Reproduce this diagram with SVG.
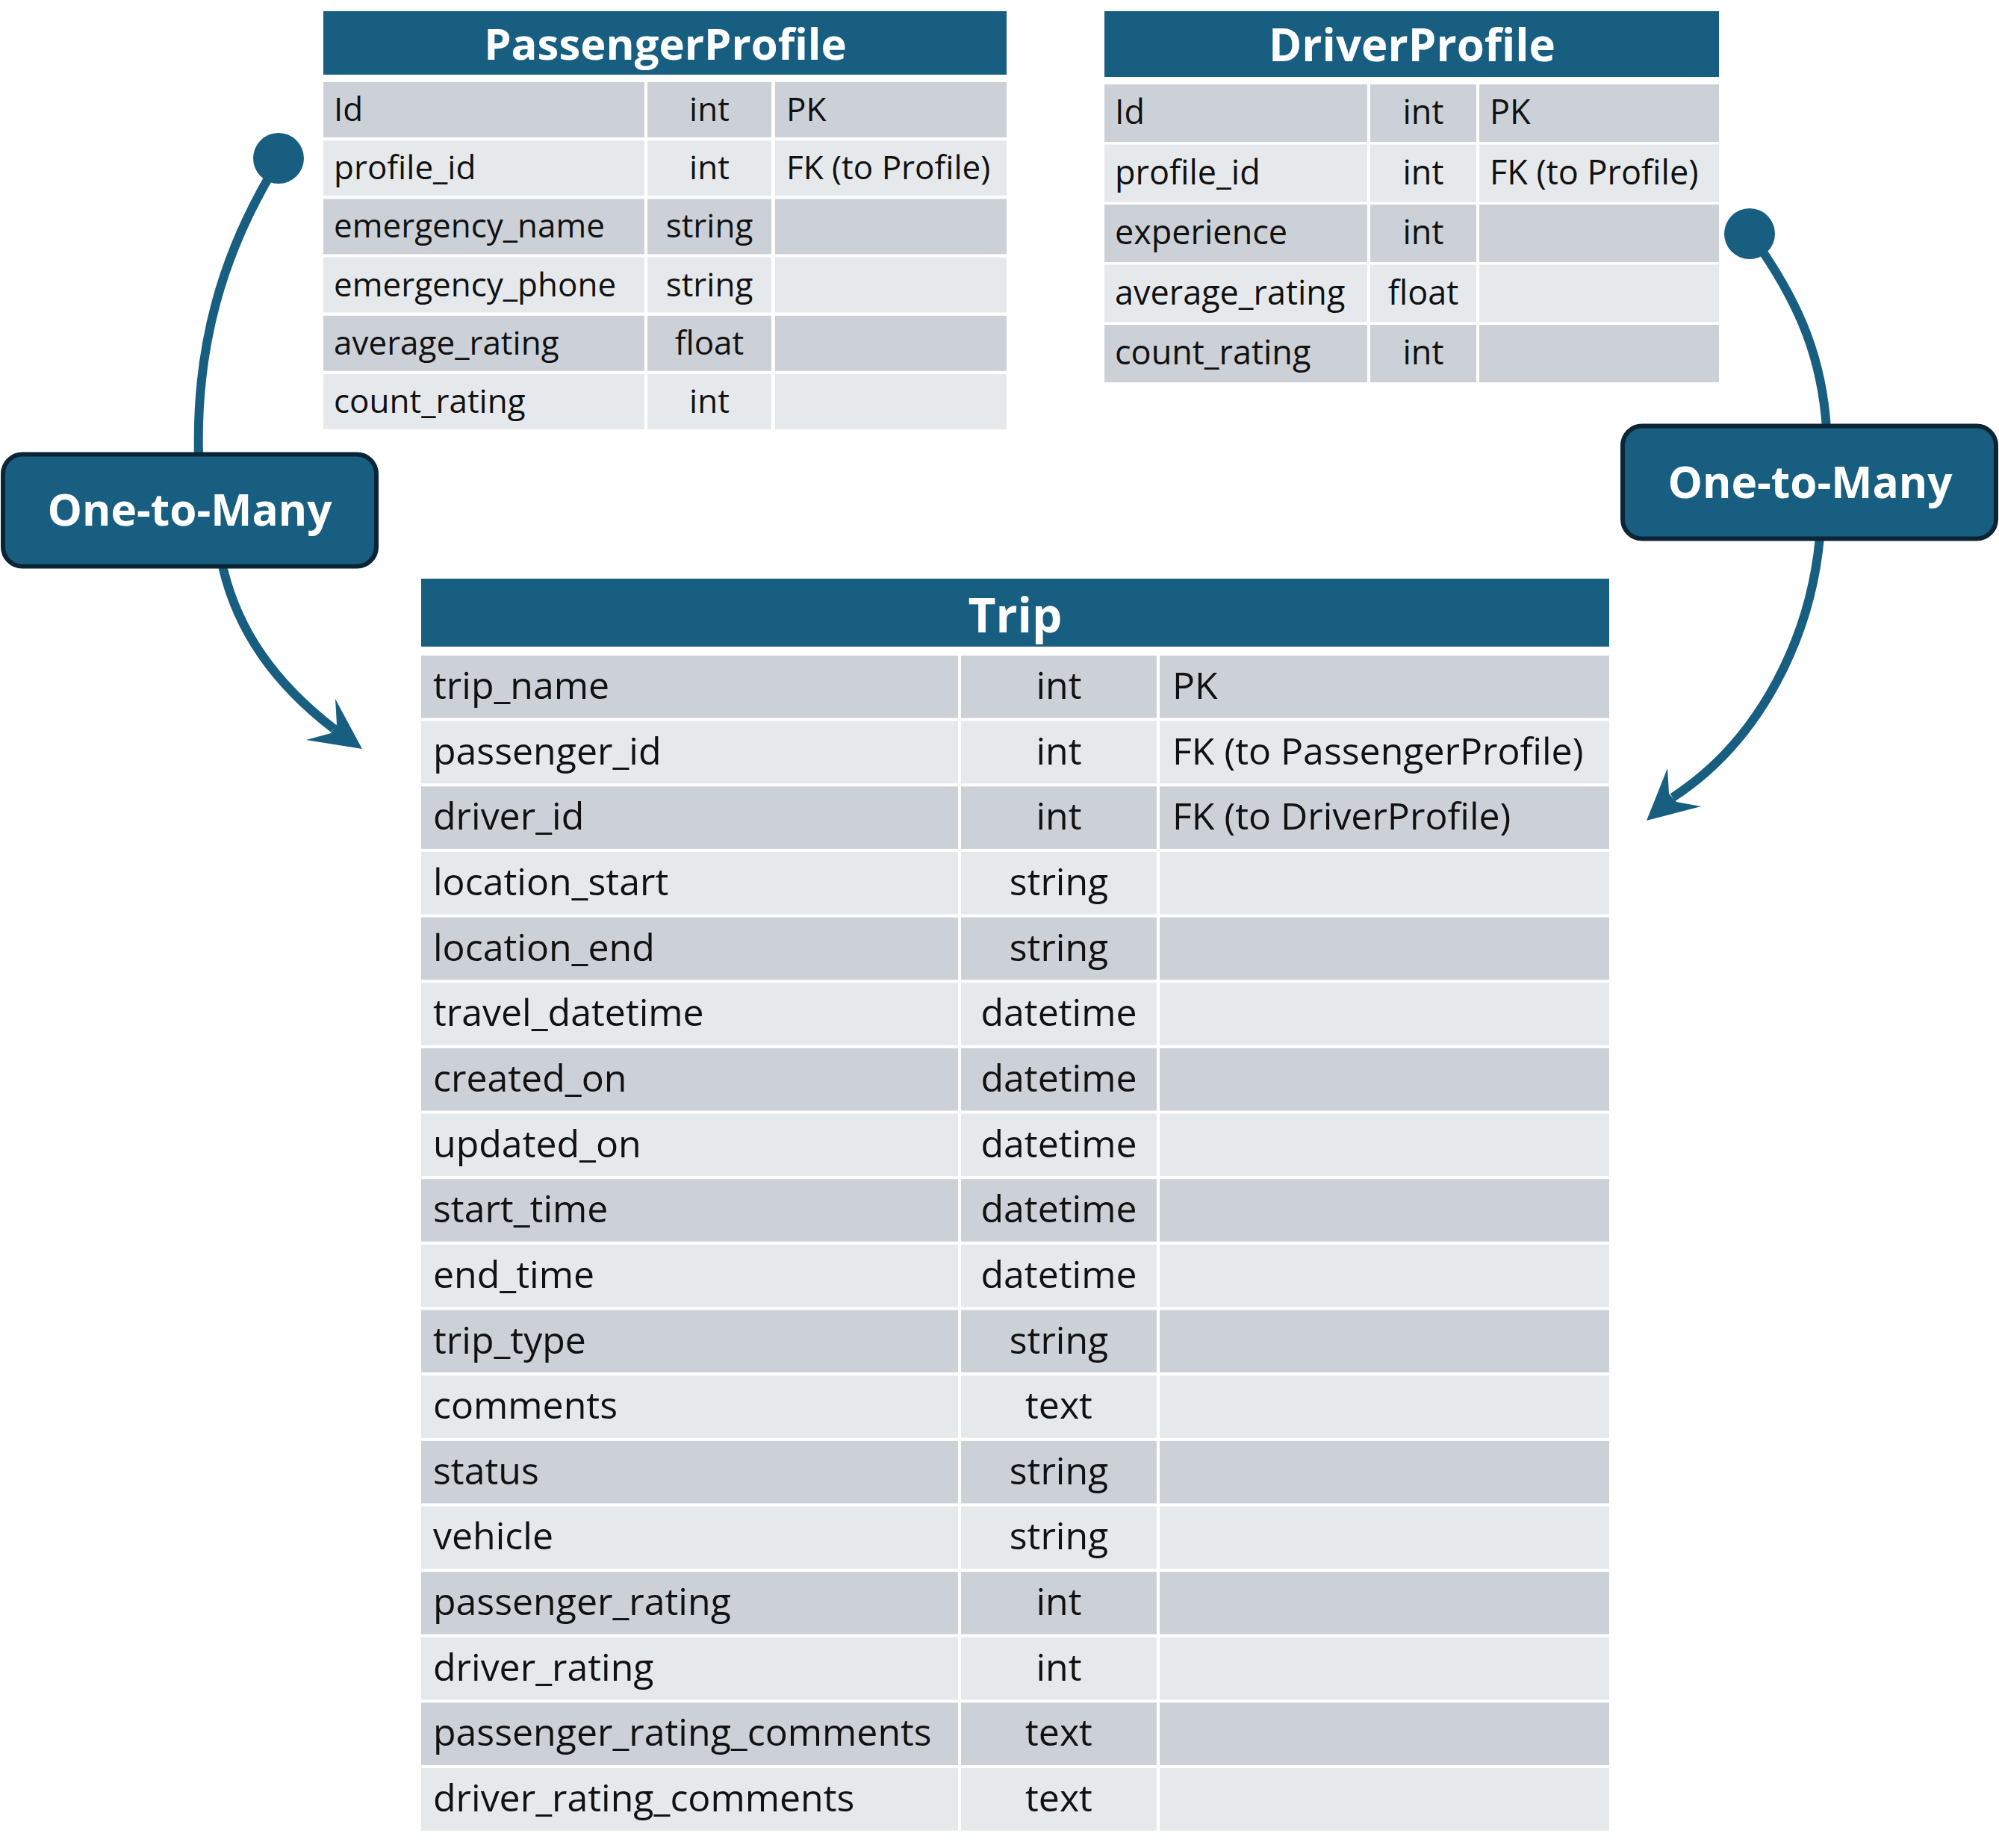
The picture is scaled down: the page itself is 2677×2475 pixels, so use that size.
<svg xmlns="http://www.w3.org/2000/svg" width="2677" height="2475" viewBox="0 0 2677 2475">
<style>
.hd{fill:#175E81}
.dk{fill:#CCD1D8}
.lt{fill:#E6E9EC}
.ht{font-family:"Open Sans","Noto Sans",sans-serif;font-weight:700;fill:#FFFFFF;text-anchor:middle}
.t{font-family:"Open Sans","Noto Sans",sans-serif;fill:#111111}
.c{text-anchor:middle}
.p{font-size:44px}
.d{font-size:45px}
.r{font-size:50px}
.conn{fill:none;stroke:#175E81;stroke-width:12}
.head{fill:#175E81}
.lbl{fill:#175E81;stroke:#0B2535;stroke-width:6}
.lt2{font-family:"Open Sans","Noto Sans",sans-serif;font-weight:700;font-size:58.5px;fill:#FFFFFF;text-anchor:middle}
</style>
<rect x="0" y="0" width="2677" height="2475" fill="#FFFFFF"/>

<g id="connectors">
  <circle cx="373" cy="212" r="34" class="head"/>
  <path class="conn" d="M 362 234 C 300 340 262 460 266 610"/>
  <path class="conn" d="M 298 758 C 318 845 368 915 447 976"/>
  <polygon class="head" points="485,1003 449,936 451,970 443,982 410,991"/>
  <circle cx="2343" cy="313" r="34" class="head"/>
  <path class="conn" d="M 2360 336 C 2410 410 2440 480 2446 574"/>
  <path class="conn" d="M 2437 720 C 2425 850 2360 990 2240 1068"/>
  <polygon class="head" points="2205,1099 2233,1029 2235,1063 2245,1074 2278,1080"/>
</g>

<g id="label-passenger-trip">
  <rect class="lbl" x="4" y="608.5" width="500" height="150" rx="26"/>
  <text class="lt2" x="254" y="704">One-to-Many</text>
</g>
<g id="label-driver-trip">
  <rect class="lbl" x="2173" y="570.5" width="500" height="151" rx="26"/>
  <text class="lt2" x="2424" y="667">One-to-Many</text>
</g>

<g id="PassengerProfile">
  <rect class="hd" x="433" y="15" width="915" height="85"/>
  <text class="ht" x="891" y="80" font-size="58">PassengerProfile</text>
  <rect class="dk" x="433" y="110" width="430" height="74"/><rect class="dk" x="867" y="110" width="166" height="74"/><rect class="dk" x="1038" y="110" width="310" height="74"/>
  <rect class="lt" x="433" y="188.2" width="430" height="74"/><rect class="lt" x="867" y="188.2" width="166" height="74"/><rect class="lt" x="1038" y="188.2" width="310" height="74"/>
  <rect class="dk" x="433" y="266.4" width="430" height="74"/><rect class="dk" x="867" y="266.4" width="166" height="74"/><rect class="dk" x="1038" y="266.4" width="310" height="74"/>
  <rect class="lt" x="433" y="344.6" width="430" height="74"/><rect class="lt" x="867" y="344.6" width="166" height="74"/><rect class="lt" x="1038" y="344.6" width="310" height="74"/>
  <rect class="dk" x="433" y="422.8" width="430" height="74"/><rect class="dk" x="867" y="422.8" width="166" height="74"/><rect class="dk" x="1038" y="422.8" width="310" height="74"/>
  <rect class="lt" x="433" y="501" width="430" height="74"/><rect class="lt" x="867" y="501" width="166" height="74"/><rect class="lt" x="1038" y="501" width="310" height="74"/>
  <text class="t p" x="447" y="162">Id</text><text class="t p c" x="950" y="162">int</text><text class="t p" x="1053" y="162">PK</text>
  <text class="t p" x="447" y="240.2">profile_id</text><text class="t p c" x="950" y="240.2">int</text><text class="t p" x="1053" y="240.2">FK (to Profile)</text>
  <text class="t p" x="447" y="318.4">emergency_name</text><text class="t p c" x="950" y="318.4">string</text>
  <text class="t p" x="447" y="396.6">emergency_phone</text><text class="t p c" x="950" y="396.6">string</text>
  <text class="t p" x="447" y="474.8">average_rating</text><text class="t p c" x="950" y="474.8">float</text>
  <text class="t p" x="447" y="553">count_rating</text><text class="t p c" x="950" y="553">int</text>
</g>

<g id="DriverProfile">
  <rect class="hd" x="1479" y="15" width="823" height="88"/>
  <text class="ht" x="1891" y="82" font-size="60">DriverProfile</text>
  <rect class="dk" x="1479" y="113" width="352" height="77"/><rect class="dk" x="1835" y="113" width="142" height="77"/><rect class="dk" x="1981" y="113" width="321" height="77"/>
  <rect class="lt" x="1479" y="193.5" width="352" height="77"/><rect class="lt" x="1835" y="193.5" width="142" height="77"/><rect class="lt" x="1981" y="193.5" width="321" height="77"/>
  <rect class="dk" x="1479" y="274" width="352" height="77"/><rect class="dk" x="1835" y="274" width="142" height="77"/><rect class="dk" x="1981" y="274" width="321" height="77"/>
  <rect class="lt" x="1479" y="354.5" width="352" height="77"/><rect class="lt" x="1835" y="354.5" width="142" height="77"/><rect class="lt" x="1981" y="354.5" width="321" height="77"/>
  <rect class="dk" x="1479" y="435" width="352" height="77"/><rect class="dk" x="1835" y="435" width="142" height="77"/><rect class="dk" x="1981" y="435" width="321" height="77"/>
  <text class="t d" x="1493" y="166">Id</text><text class="t d c" x="1906" y="166">int</text><text class="t d" x="1995" y="166">PK</text>
  <text class="t d" x="1493" y="246.5">profile_id</text><text class="t d c" x="1906" y="246.5">int</text><text class="t d" x="1995" y="246.5">FK (to Profile)</text>
  <text class="t d" x="1493" y="327">experience</text><text class="t d c" x="1906" y="327">int</text>
  <text class="t d" x="1493" y="407.5">average_rating</text><text class="t d c" x="1906" y="407.5">float</text>
  <text class="t d" x="1493" y="488">count_rating</text><text class="t d c" x="1906" y="488">int</text>
</g>

<g id="Trip">
  <rect class="hd" x="564" y="775" width="1591" height="91"/>
  <text class="ht" x="1359.5" y="847" font-size="64">Trip</text>
  <rect class="dk" x="564" y="878" width="719" height="83.6"/><rect class="dk" x="1287" y="878" width="262" height="83.6"/><rect class="dk" x="1553" y="878" width="602" height="83.6"/>
  <rect class="lt" x="564" y="965.65" width="719" height="83.6"/><rect class="lt" x="1287" y="965.65" width="262" height="83.6"/><rect class="lt" x="1553" y="965.65" width="602" height="83.6"/>
  <rect class="dk" x="564" y="1053.3" width="719" height="83.6"/><rect class="dk" x="1287" y="1053.3" width="262" height="83.6"/><rect class="dk" x="1553" y="1053.3" width="602" height="83.6"/>
  <rect class="lt" x="564" y="1140.95" width="719" height="83.6"/><rect class="lt" x="1287" y="1140.95" width="262" height="83.6"/><rect class="lt" x="1553" y="1140.95" width="602" height="83.6"/>
  <rect class="dk" x="564" y="1228.6" width="719" height="83.6"/><rect class="dk" x="1287" y="1228.6" width="262" height="83.6"/><rect class="dk" x="1553" y="1228.6" width="602" height="83.6"/>
  <rect class="lt" x="564" y="1316.25" width="719" height="83.6"/><rect class="lt" x="1287" y="1316.25" width="262" height="83.6"/><rect class="lt" x="1553" y="1316.25" width="602" height="83.6"/>
  <rect class="dk" x="564" y="1403.9" width="719" height="83.6"/><rect class="dk" x="1287" y="1403.9" width="262" height="83.6"/><rect class="dk" x="1553" y="1403.9" width="602" height="83.6"/>
  <rect class="lt" x="564" y="1491.55" width="719" height="83.6"/><rect class="lt" x="1287" y="1491.55" width="262" height="83.6"/><rect class="lt" x="1553" y="1491.55" width="602" height="83.6"/>
  <rect class="dk" x="564" y="1579.2" width="719" height="83.6"/><rect class="dk" x="1287" y="1579.2" width="262" height="83.6"/><rect class="dk" x="1553" y="1579.2" width="602" height="83.6"/>
  <rect class="lt" x="564" y="1666.85" width="719" height="83.6"/><rect class="lt" x="1287" y="1666.85" width="262" height="83.6"/><rect class="lt" x="1553" y="1666.85" width="602" height="83.6"/>
  <rect class="dk" x="564" y="1754.5" width="719" height="83.6"/><rect class="dk" x="1287" y="1754.5" width="262" height="83.6"/><rect class="dk" x="1553" y="1754.5" width="602" height="83.6"/>
  <rect class="lt" x="564" y="1842.15" width="719" height="83.6"/><rect class="lt" x="1287" y="1842.15" width="262" height="83.6"/><rect class="lt" x="1553" y="1842.15" width="602" height="83.6"/>
  <rect class="dk" x="564" y="1929.8" width="719" height="83.6"/><rect class="dk" x="1287" y="1929.8" width="262" height="83.6"/><rect class="dk" x="1553" y="1929.8" width="602" height="83.6"/>
  <rect class="lt" x="564" y="2017.45" width="719" height="83.6"/><rect class="lt" x="1287" y="2017.45" width="262" height="83.6"/><rect class="lt" x="1553" y="2017.45" width="602" height="83.6"/>
  <rect class="dk" x="564" y="2105.1" width="719" height="83.6"/><rect class="dk" x="1287" y="2105.1" width="262" height="83.6"/><rect class="dk" x="1553" y="2105.1" width="602" height="83.6"/>
  <rect class="lt" x="564" y="2192.75" width="719" height="83.6"/><rect class="lt" x="1287" y="2192.75" width="262" height="83.6"/><rect class="lt" x="1553" y="2192.75" width="602" height="83.6"/>
  <rect class="dk" x="564" y="2280.4" width="719" height="83.6"/><rect class="dk" x="1287" y="2280.4" width="262" height="83.6"/><rect class="dk" x="1553" y="2280.4" width="602" height="83.6"/>
  <rect class="lt" x="564" y="2368.05" width="719" height="83.6"/><rect class="lt" x="1287" y="2368.05" width="262" height="83.6"/><rect class="lt" x="1553" y="2368.05" width="602" height="83.6"/>
  <text class="t r" x="580" y="936">trip_name</text><text class="t r c" x="1418" y="936">int</text><text class="t r" x="1570" y="936">PK</text>
  <text class="t r" x="580" y="1023.65">passenger_id</text><text class="t r c" x="1418" y="1023.65">int</text><text class="t r" x="1570" y="1023.65">FK (to PassengerProfile)</text>
  <text class="t r" x="580" y="1111.3">driver_id</text><text class="t r c" x="1418" y="1111.3">int</text><text class="t r" x="1570" y="1111.3">FK (to DriverProfile)</text>
  <text class="t r" x="580" y="1198.95">location_start</text><text class="t r c" x="1418" y="1198.95">string</text>
  <text class="t r" x="580" y="1286.6">location_end</text><text class="t r c" x="1418" y="1286.6">string</text>
  <text class="t r" x="580" y="1374.25">travel_datetime</text><text class="t r c" x="1418" y="1374.25">datetime</text>
  <text class="t r" x="580" y="1461.9">created_on</text><text class="t r c" x="1418" y="1461.9">datetime</text>
  <text class="t r" x="580" y="1549.55">updated_on</text><text class="t r c" x="1418" y="1549.55">datetime</text>
  <text class="t r" x="580" y="1637.2">start_time</text><text class="t r c" x="1418" y="1637.2">datetime</text>
  <text class="t r" x="580" y="1724.85">end_time</text><text class="t r c" x="1418" y="1724.85">datetime</text>
  <text class="t r" x="580" y="1812.5">trip_type</text><text class="t r c" x="1418" y="1812.5">string</text>
  <text class="t r" x="580" y="1900.15">comments</text><text class="t r c" x="1418" y="1900.15">text</text>
  <text class="t r" x="580" y="1987.8">status</text><text class="t r c" x="1418" y="1987.8">string</text>
  <text class="t r" x="580" y="2075.45">vehicle</text><text class="t r c" x="1418" y="2075.45">string</text>
  <text class="t r" x="580" y="2163.1">passenger_rating</text><text class="t r c" x="1418" y="2163.1">int</text>
  <text class="t r" x="580" y="2250.75">driver_rating</text><text class="t r c" x="1418" y="2250.75">int</text>
  <text class="t r" x="580" y="2338.4">passenger_rating_comments</text><text class="t r c" x="1418" y="2338.4">text</text>
  <text class="t r" x="580" y="2426.05">driver_rating_comments</text><text class="t r c" x="1418" y="2426.05">text</text>
</g>
</svg>
